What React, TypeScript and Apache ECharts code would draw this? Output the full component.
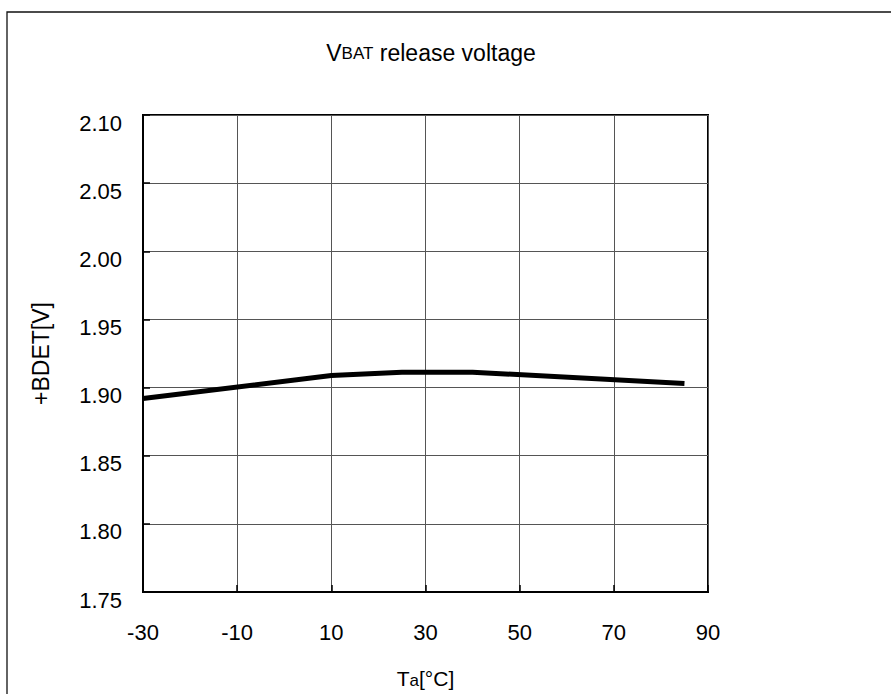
import React, { useEffect, useRef } from "react";
import * as echarts from "echarts";

const temperatures = [-30, 10, 25, 40, 85];
const releaseVoltage = [1.892, 1.9088, 1.9113, 1.9113, 1.903];
const xTicks = { min: -30, max: 90, interval: 20 };
const yTicks = { min: 1.75, max: 2.1, interval: 0.05 };

const FONT = "Arial, 'Liberation Sans', sans-serif";

export default function App() {
  const ref = useRef<HTMLDivElement>(null);
  useEffect(() => {
    document.body.style.margin = "0";
    const chart = echarts.init(ref.current!, null, { renderer: "svg" });
    chart.setOption({
      animation: false,
      backgroundColor: "#ffffff",
      textStyle: { fontFamily: FONT },
      graphic: [
        {
          type: "rect",
          shape: { x: 7, y: 12, width: 1200, height: 1200 },
          style: { fill: "none", stroke: "#111", lineWidth: 1.3 },
          silent: true,
        },
        {
          type: "text",
          x: 431,
          y: 53,
          style: {
            text: "{v|V}{s|BAT}{v| release voltage}",
            align: "center",
            verticalAlign: "middle",
            rich: {
              v: { fontSize: 23, fontFamily: FONT, fill: "#000" },
              s: { fontSize: 17, fontFamily: FONT, fill: "#000" },
            },
          },
        },
      ],
      grid: {
        left: 143,
        top: 115,
        width: 565,
        height: 478,
        show: true,
        borderColor: "#000",
        borderWidth: 2,
        backgroundColor: "transparent",
      },
      xAxis: {
        type: "value",
        min: xTicks.min,
        max: xTicks.max,
        interval: xTicks.interval,
        name: "{t|T}{s|a}{t|[°C]}",
        nameLocation: "middle",
        nameGap: 76,
        nameTextStyle: {
          rich: {
            t: { fontSize: 21, fontFamily: FONT, color: "#000" },
            s: { fontSize: 17, fontFamily: FONT, color: "#000", padding: [4, 0, 0, 0] },
          },
        },
        axisLine: { onZero: false, lineStyle: { color: "#000", width: 2 } },
        axisTick: { inside: true, length: 7, lineStyle: { color: "#000", width: 1.5 } },
        axisLabel: { fontSize: 22, color: "#000", margin: 29, fontFamily: FONT },
        splitLine: { show: true, lineStyle: { color: "#555", width: 1 } },
      },
      yAxis: {
        type: "value",
        min: yTicks.min,
        max: yTicks.max,
        interval: yTicks.interval,
        name: "+BDET[V]",
        nameLocation: "middle",
        nameGap: 91,
        nameTextStyle: { fontSize: 23, color: "#000", fontFamily: FONT },
        axisLine: { onZero: false, lineStyle: { color: "#000", width: 2 } },
        axisTick: { inside: true, length: 7, lineStyle: { color: "#000", width: 1.5 } },
        axisLabel: {
          fontSize: 22,
          color: "#000",
          margin: 21,
          fontFamily: FONT,
          verticalAlign: "top",
          lineHeight: 16,
          formatter: (v: number) => v.toFixed(2),
        },
        splitLine: { show: true, lineStyle: { color: "#555", width: 1 } },
      },
      series: [
        {
          type: "line",
          data: temperatures.map((t, i) => [t, releaseVoltage[i]]),
          showSymbol: false,
          lineStyle: { color: "#000", width: 5 },
        },
      ],
    });
    return () => chart.dispose();
  }, []);
  return (
    <div
      ref={ref}
      style={{ position: "absolute", left: 0, top: 0, width: 891, height: 694 }}
    />
  );
}
